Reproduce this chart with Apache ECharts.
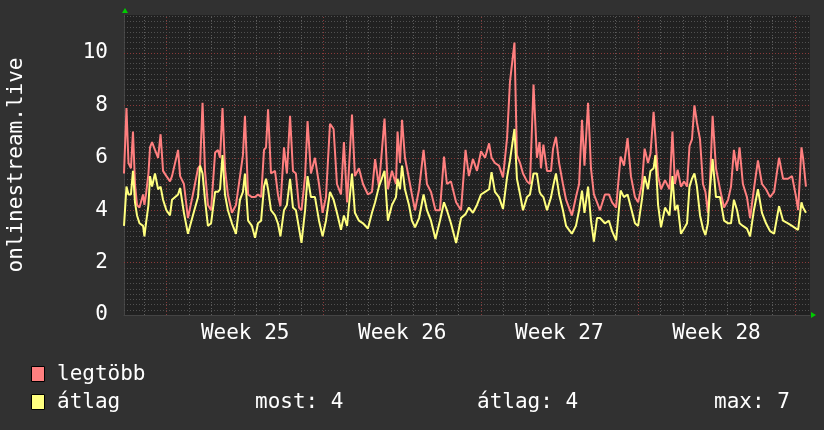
<!DOCTYPE html>
<html>
<head>
<meta charset="utf-8">
<script src="https://cdn.jsdelivr.net/npm/echarts@6/dist/echarts.min.js"></script>
<style>
  html, body { margin: 0; padding: 0; background: #313131; }
  #chart { width: 824px; height: 430px; }
</style>
</head>
<body>
<div id="chart"></div>
<script>
// days since left edge of the graph
const days = [
  0.00, 0.11, 0.20, 0.31, 0.40, 0.49, 0.58, 0.69, 0.85, 0.91, 0.98, 1.09, 1.16, 1.25, 1.38, 1.52, 1.63, 1.74, 1.89,
  2.05, 2.14, 2.41, 2.50, 2.67, 2.85, 3.07, 3.30, 3.39, 3.50, 3.61, 3.74, 3.88, 4.06, 4.19, 4.28, 4.39, 4.50, 4.63,
  4.81, 4.99, 5.17, 5.30, 5.39, 5.53, 5.70, 5.84, 5.97, 6.11, 6.24, 6.33, 6.42, 6.55, 6.73, 6.86, 6.97, 7.13, 7.26,
  7.40, 7.53, 7.66, 7.80, 7.91, 8.07, 8.18, 8.33, 8.51, 8.69, 8.85, 9.00, 9.18, 9.34, 9.49, 9.67, 9.80, 9.94, 10.16,
  10.29, 10.47, 10.65, 10.87, 11.05, 11.19, 11.36, 11.61, 11.76, 11.94, 12.12, 12.19, 12.30, 12.39, 12.52, 12.70,
  12.83, 12.97, 13.15, 13.35, 13.50, 13.68, 13.88, 14.08, 14.26, 14.39, 14.57, 14.80, 15.02, 15.22, 15.37, 15.55,
  15.73, 15.91, 16.09, 16.27, 16.38, 16.53, 16.71, 16.89, 17.07, 17.20, 17.40, 17.51, 17.65, 17.78, 17.96, 18.09,
  18.25, 18.40, 18.52, 18.58, 18.69, 18.85, 19.03, 19.12, 19.25, 19.39, 19.56, 19.70, 19.83, 19.96, 20.14, 20.28,
  20.41, 20.52, 20.68, 20.81, 20.94, 21.08, 21.21, 21.43, 21.61, 21.75, 21.93, 22.13, 22.28, 22.44, 22.59, 22.77,
  22.91, 23.08, 23.20, 23.35, 23.46, 23.60, 23.68, 23.80, 23.93, 24.11, 24.31, 24.44, 24.55, 24.67, 24.82, 24.96,
  25.09, 25.20, 25.31, 25.42, 25.53, 25.67, 25.80, 25.91, 26.02, 26.11, 26.23, 26.38, 26.56, 26.74, 26.92, 27.05,
  27.18, 27.32, 27.43, 27.58, 27.76, 27.90, 28.07, 28.25, 28.43, 28.61, 28.79, 28.97, 29.19, 29.37, 29.59, 29.77,
  29.95, 30.04, 30.19, 30.26, 30.39
];

// legtöbb (max)
const legtobb = [
  5.4, 7.9, 5.8, 5.6, 7.0, 5.0, 4.2, 4.1, 4.6, 4.2, 4.6, 5.4, 6.4, 6.6, 6.3, 6.0, 6.9, 5.5, 5.3,
  5.1, 5.3, 6.3, 5.3, 5.0, 3.7, 4.6, 5.6, 5.7, 8.1, 5.5, 4.2, 4.0, 6.2, 6.3, 6.0, 7.9, 5.6, 4.6,
  3.9, 4.2, 5.3, 6.1, 7.6, 4.6, 4.5, 4.5, 4.6, 4.5, 6.3, 6.4, 7.85, 5.4, 5.5, 4.6, 4.15, 6.4, 5.4,
  7.6, 5.5, 5.4, 4.1, 4.0, 5.3, 7.4, 5.4, 6.0, 5.0, 3.9, 4.5, 7.3, 7.1, 5.0, 4.6, 6.6, 4.3, 7.65,
  5.3, 5.6, 5.0, 4.6, 4.7, 5.95, 4.9, 7.5, 4.8, 5.5, 5.0, 7.0, 5.8, 7.45, 6.0, 5.2,
  4.6, 4.0, 4.8, 6.3, 5.0, 4.7, 4.0, 4.0, 6.05, 5.0, 5.1, 4.3, 4.0, 6.3, 5.3, 5.95,
  5.5, 6.25, 6.0, 6.55, 6.0, 5.8, 5.7, 5.25, 6.75, 8.9, 10.4, 6.1, 5.8, 5.4, 5.1, 5.0,
  8.8, 6.0, 6.6, 5.6, 6.5, 5.5, 5.5, 6.35, 6.8, 5.8, 5.0, 4.4, 4.1, 3.8, 4.5, 5.0,
  7.45, 5.7, 8.1, 5.6, 4.6, 4.3, 4.0, 4.6, 4.6, 4.3, 4.1, 6.05, 5.7, 6.75, 5.3, 4.5,
  4.3, 5.0, 6.35, 5.8, 6.15, 7.75, 6.8, 5.3, 4.8, 5.15, 4.8, 7.0, 5.0, 5.55, 4.9, 5.1,
  4.9, 6.45, 6.7, 8.0, 7.35, 6.7, 5.0, 4.7, 3.9, 5.0, 7.6, 5.6, 4.8, 4.1, 4.4, 4.9,
  6.3, 5.5, 6.4, 5.0, 4.5, 3.7, 4.8, 5.9, 5.0, 4.8, 4.5, 4.7, 6.0, 5.2, 5.2, 5.3,
  4.5, 4.0, 6.4, 6.0, 4.9
];

// átlag (average)
const atlag = [
  3.4, 4.9, 4.6, 4.6, 5.5, 4.3, 3.8, 3.5, 3.4, 3.0, 3.5, 4.2, 5.3, 4.9, 5.4, 4.8, 4.9, 4.4, 4.0,
  3.8, 4.4, 4.6, 4.85, 3.9, 3.1, 3.8, 4.5, 5.7, 5.4, 4.4, 3.4, 3.5, 4.7, 4.7, 4.8, 6.1, 4.6, 4.0,
  3.5, 3.1, 4.4, 4.7, 5.4, 3.6, 3.4, 2.95, 3.5, 3.6, 4.9, 5.2, 4.8, 4.0, 3.8, 3.5, 3.0, 4.0, 4.2,
  5.2, 4.1, 4.0, 3.3, 2.75, 4.0, 5.3, 4.5, 4.5, 3.6, 3.0, 3.6, 4.7, 4.4, 3.9, 3.25, 3.8, 3.4, 5.4,
  3.9, 3.6, 3.5, 3.3, 3.9, 4.3, 4.9, 5.5, 3.6, 4.2, 4.5, 5.2, 4.8, 5.7, 4.8, 4.2,
  3.6, 3.35, 3.7, 4.6, 4.0, 3.6, 2.9, 3.6, 4.3, 4.0, 3.5, 2.75, 3.7, 3.85, 4.1, 3.9,
  4.2, 4.6, 4.7, 4.8, 5.45, 4.7, 4.5, 4.05, 5.25, 5.9, 7.1, 5.2, 4.6, 4.0, 4.5, 4.6,
  5.4, 5.4, 4.7, 4.6, 4.5, 4.0, 4.5, 4.9, 5.4, 4.6, 4.0, 3.4, 3.25, 3.1, 3.4, 4.0,
  4.75, 3.9, 4.9, 3.6, 2.8, 3.7, 3.7, 3.5, 3.6, 3.2, 2.85, 4.75, 4.5, 4.6, 4.1, 3.5,
  3.4, 4.4, 5.3, 4.8, 5.5, 5.6, 6.1, 4.2, 3.35, 4.1, 3.8, 5.3, 4.0, 4.2, 3.1, 3.3,
  3.5, 4.9, 5.2, 5.4, 4.9, 3.8, 3.3, 3.05, 3.5, 4.8, 5.95, 4.5, 4.5, 3.6, 3.5, 3.5,
  4.4, 4.0, 3.5, 3.4, 3.3, 3.0, 4.0, 4.8, 3.9, 3.5, 3.2, 3.1, 4.15, 3.6, 3.5, 3.4,
  3.3, 3.25, 4.3, 4.1, 3.9
];

const weekNames = ['Week 25', 'Week 26', 'Week 27', 'Week 28'];
const firstMonday = 1.9;   // start of week 25, in days from the left edge
const totalDays = 30.57;
const yLabels = [0, 2, 4, 6, 8, 10];
const yMax = 11.45;
const stats = ['most: 4', 'átlag: 4', 'max: 7'];

const RED = '#ff7f7f';
const YELLOW = '#ffff7f';
const FONT = 'DejaVu Sans Mono';

// grid lines (dotted, RRD style)
const gridLines = [];
for (let d = firstMonday - 1; d < totalDays; d += 1) {
  const isWeek = Math.abs(((d - firstMonday) % 7 + 7) % 7) < 0.01;
  gridLines.push({
    xAxis: d,
    lineStyle: { color: isWeek ? '#8a3a3a' : '#5e5e5e', type: [1, 2], width: 1 }
  });
}
for (let i = 1; i * 0.2 < yMax; i++) {
  gridLines.push({
    yAxis: +(i * 0.2).toFixed(1),
    lineStyle: { color: i % 10 === 0 ? '#8a3a3a' : '#505050', type: [1, 2], width: 1 }
  });
}

const chart = echarts.init(document.getElementById('chart'), null, { renderer: 'canvas' });

const option = {
  backgroundColor: '#313131',
  animation: false,
  grid: {
    left: 124, right: 14, top: 15, bottom: 115,
    outerBoundsMode: 'none',
    containLabel: false,
    show: true, backgroundColor: '#212121', borderWidth: 0
  },
  xAxis: {
    type: 'value',
    min: 0,
    max: totalDays,
    axisLine: { show: true, lineStyle: { color: '#444444' } },
    axisTick: { show: false },
    splitLine: { show: false },
    axisLabel: {
      customValues: weekNames.map((_, i) => firstMonday + 3.5 + 7 * i),
      formatter: v => weekNames[Math.round((v - firstMonday - 3.5) / 7)],
      color: '#ffffff',
      fontFamily: FONT,
      fontSize: 21,
      margin: 8
    }
  },
  yAxis: {
    type: 'value',
    min: 0,
    max: yMax,
    interval: 2,
    name: 'onlinestream.live',
    nameLocation: 'middle',
    nameGap: 97,
    nameRotate: 90,
    nameTextStyle: { color: '#ffffff', fontFamily: FONT, fontSize: 21 },
    axisLine: { show: true, lineStyle: { color: '#444444' } },
    axisTick: { show: false },
    splitLine: { show: false },
    axisLabel: {
      customValues: yLabels,
      color: '#ffffff',
      fontFamily: FONT,
      fontSize: 21,
      margin: 16
    }
  },
  series: [
    {
      name: 'grid',
      type: 'line',
      data: [],
      silent: true,
      markLine: {
        silent: true,
        z: 1,
        symbol: 'none',
        label: { show: false },
        animation: false,
        data: gridLines
      }
    },
    {
      name: 'legtöbb',
      type: 'line',
      data: days.map((d, i) => [d, legtobb[i]]),
      showSymbol: false,
      lineStyle: { color: RED, width: 2 },
      itemStyle: { color: RED }
    },
    {
      name: 'átlag',
      type: 'line',
      data: days.map((d, i) => [d, atlag[i]]),
      showSymbol: false,
      lineStyle: { color: YELLOW, width: 2 },
      itemStyle: { color: YELLOW }
    }
  ],
  graphic: [
    // axis arrows
    { type: 'polygon', shape: { points: [[122, 13], [128, 13], [125, 8]] }, style: { fill: '#00cc00' } },
    { type: 'polygon', shape: { points: [[811, 312], [811, 318], [816, 315]] }, style: { fill: '#00cc00' } },
    // legend
    { type: 'rect', shape: { x: 31.5, y: 366.5, width: 13, height: 15 }, style: { fill: RED, stroke: '#000', lineWidth: 1 } },
    { type: 'text', x: 57, y: 375, style: { text: 'legtöbb', fill: '#fff', font: '21px ' + FONT, verticalAlign: 'middle' } },
    { type: 'rect', shape: { x: 31.5, y: 394.5, width: 13, height: 15 }, style: { fill: YELLOW, stroke: '#000', lineWidth: 1 } },
    { type: 'text', x: 57, y: 403, style: { text: 'átlag', fill: '#fff', font: '21px ' + FONT, verticalAlign: 'middle' } },
    { type: 'text', x: 255, y: 403, style: { text: stats[0], fill: '#fff', font: '21px ' + FONT, verticalAlign: 'middle' } },
    { type: 'text', x: 477, y: 403, style: { text: stats[1], fill: '#fff', font: '21px ' + FONT, verticalAlign: 'middle' } },
    { type: 'text', x: 714, y: 403, style: { text: stats[2], fill: '#fff', font: '21px ' + FONT, verticalAlign: 'middle' } }
  ]
};

chart.setOption(option);
</script>
</body>
</html>
